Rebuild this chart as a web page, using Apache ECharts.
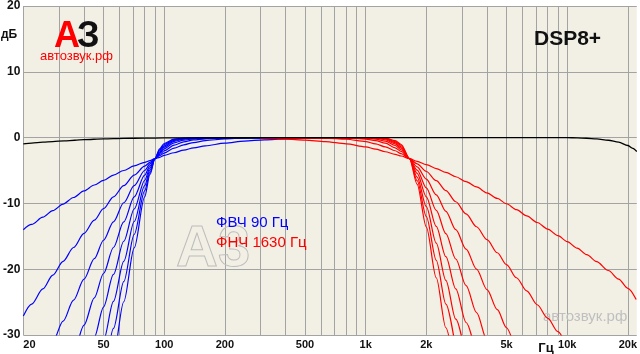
<!DOCTYPE html>
<html>
<head>
<meta charset="utf-8">
<script src="https://cdn.jsdelivr.net/npm/echarts@6/dist/echarts.min.js"></script>
<style>
  html, body { margin: 0; padding: 0; background: #fff; }
  #chart { width: 640px; height: 354px; }
</style>
</head>
<body>
<div id="chart"></div>
<script>
// частоты, Гц
var freqBase = [20, 22, 25, 28, 32, 36, 40, 50, 63, 80, 100, 200, 1000, 5000, 10000, 11200, 12500, 14000, 16000, 18000, 20000, 21000, 22150];
var freqBlue = [20, 22, 25, 28, 31.5, 35.5, 40, 45, 50, 56, 63, 71, 80, 85, 90, 95, 100, 112, 125, 140, 160, 200, 250, 315, 400, 500, 630, 800, 1000];
var freqRed = [300, 400, 500, 630, 800, 1000, 1120, 1250, 1400, 1500, 1650, 1800, 2000, 2240, 2500, 2800, 3150, 3550, 4000, 4500, 5000, 5600, 6300, 7100, 8000, 9000, 10000, 11200, 12500, 14000, 16000, 18000, 20000, 22000];

// АЧХ без фильтров, дБ
var base = [-0.95, -0.85, -0.7, -0.6, -0.5, -0.4, -0.3, -0.2, -0.12, -0.08, -0.05, -0.02, 0, 0, 0, -0.05, -0.1, -0.2, -0.4, -0.7, -1.2, -1.6, -2.1];

// ФВЧ 90 Гц, крутизна 6...48 дБ/окт
var hpf6 = [-14.0, -13.2, -12.1, -11.1, -10.1, -9.1, -8.1, -7.2, -6.5, -5.7, -5.0, -4.3, -3.75, -3.5, -3.2, -3.0, -2.7, -2.3, -1.9, -1.55, -1.25, -0.85, -0.53, -0.34, -0.21, -0.14, -0.09, -0.05, -0.03];
var hpf12 = [-27.1, -25.3, -23.0, -20.9, -18.8, -16.7, -14.55, -12.55, -10.8, -9.0, -7.3, -5.7, -4.35, -3.75, -3.2, -2.75, -2.35, -1.6, -1.1, -0.75, -0.45, -0.2, -0.07, -0.03, 0, 0, 0, 0, 0];
var hpf18 = [-40.2, -37.6, -34.1, -31.0, -27.9, -24.7, -21.5, -18.4, -15.6, -12.8, -9.9, -7.3, -5.0, -4.0, -3.2, -2.55, -2.0, -1.15, -0.65, -0.36, -0.19, -0.07, -0.02, 0, 0, 0, 0, 0, 0];
var hpf24 = [null, null, -45.2, -41.2, -37.0, -32.7, -28.5, -24.35, -20.65, -16.7, -12.8, -9.0, -5.7, -4.3, -3.2, -2.35, -1.7, -0.8, -0.38, -0.19, -0.09, -0.03, 0, 0, 0, 0, 0, 0, 0];
var hpf30 = [null, null, null, null, -46.1, -40.8, -35.5, -30.35, -25.75, -20.8, -15.75, -10.85, -6.5, -4.6, -3.2, -2.2, -1.45, -0.56, -0.24, -0.11, -0.05, -0.03, 0, 0, 0, 0, 0, 0, 0];
var hpf36 = [null, null, null, null, null, -48.9, -42.6, -36.35, -30.85, -24.9, -18.8, -12.75, -7.3, -4.95, -3.2, -2.0, -1.25, -0.41, -0.16, -0.06, -0.05, -0.03, 0, 0, 0, 0, 0, 0, 0];
var hpf42 = [null, null, null, null, null, null, -49.6, -42.35, -35.9, -29.0, -21.9, -14.7, -8.1, -5.3, -3.2, -1.85, -1.05, -0.3, -0.12, -0.06, -0.05, -0.03, 0, 0, 0, 0, 0, 0, 0];
var hpf48 = [null, null, null, null, null, null, null, -48.45, -41.05, -33.1, -24.95, -16.75, -9.0, -5.6, -3.2, -1.7, -0.9, -0.23, -0.08, -0.06, -0.05, -0.03, 0, 0, 0, 0, 0, 0, 0];

// ФНЧ 1630 Гц, крутизна 6...48 дБ/окт
var lpf6 = [-0.14, -0.25, -0.38, -0.6, -0.95, -1.4, -1.75, -2.15, -2.55, -2.8, -3.2, -3.6, -4.1, -4.7, -5.3, -5.95, -6.7, -7.5, -8.4, -9.25, -10.05, -10.95, -11.9, -12.9, -13.9, -14.9, -15.8, -16.8, -17.8, -18.85, -20.2, -21.5, -22.9, -24.6];
var lpf12 = [0, -0.02, -0.04, -0.09, -0.25, -0.6, -0.95, -1.4, -2.0, -2.45, -3.2, -4.0, -5.15, -6.55, -8.05, -9.75, -11.6, -13.55, -15.5, -17.5, -19.3, -21.3, -23.3, -25.4, -27.45, -29.5, -31.3, -33.4];
var lpf18 = [0, 0, 0, -0.01, -0.06, -0.22, -0.45, -0.85, -1.55, -2.1, -3.2, -4.45, -6.3, -8.7, -11.2, -14.0, -16.95, -20.0, -23.1, -26.15, -28.9, -31.85, -34.9];
var lpf24 = [0, 0, 0, 0, -0.01, -0.08, -0.22, -0.55, -1.2, -1.85, -3.2, -4.95, -7.65, -11.05, -14.6, -18.45, -22.5, -26.6, -30.8, -34.9];
var lpf30 = [0, 0, 0, 0, 0, -0.03, -0.1, -0.33, -0.95, -1.6, -3.2, -5.45, -9.0, -13.5, -18.1, -23.0, -28.1, -33.3];
var lpf36 = [0, 0, 0, 0, 0, -0.01, -0.05, -0.2, -0.75, -1.4, -3.2, -6.0, -10.5, -16.05, -21.7, -27.6, -33.7];
var lpf42 = [0, 0, 0, 0, 0, 0, -0.02, -0.12, -0.6, -1.2, -3.2, -6.55, -12.0, -18.65, -25.3, -32.2];
var lpf48 = [0, 0, 0, 0, 0, 0, -0.01, -0.07, -0.45, -1.05, -3.2, -7.1, -13.6, -21.3, -28.9, -36.8];

// сетка и подписи осей
var gridFreqs = [20, 30, 40, 50, 60, 70, 80, 90, 100, 200, 300, 400, 500, 600, 700, 800, 900, 1000,
  2000, 3000, 4000, 5000, 6000, 7000, 8000, 9000, 10000, 20000];
var labelFreqs = [20, 50, 100, 200, 500, 1000, 2000, 5000, 10000, 20000];

var FONT = '"Liberation Sans", Arial, sans-serif';

function curve(freqs, vals, color) {
  return {
    type: 'line',
    data: vals.map(function (v, i) { return [freqs[i], v]; }),
    symbol: 'none',
    smooth: 0.3,
    smoothMonotone: 'x',
    clip: true,
    silent: true,
    lineStyle: { color: color, width: 1.2 }
  };
}

var series = [];
[hpf6, hpf12, hpf18, hpf24, hpf30, hpf36, hpf42, hpf48].forEach(function (c) {
  series.push(curve(freqBlue, c, '#0000ff'));
});
[lpf6, lpf12, lpf18, lpf24, lpf30, lpf36, lpf42, lpf48].forEach(function (c) {
  series.push(curve(freqRed, c, '#ff0000'));
});
var baseLine = curve(freqBase, base, '#000000');
baseLine.lineStyle.width = 1.3;
series.push(baseLine);

var myChart = echarts.init(document.getElementById('chart'));
var option = {
  animation: false,
  backgroundColor: '#ffffff',
  grid: {
    left: 22, right: 0, top: 3, bottom: 19,
    show: true,
    backgroundColor: '#f2f0e5',
    borderWidth: 0
  },
  xAxis: {
    type: 'log',
    logBase: 10,
    min: 20,
    max: 22150,
    axisLine: { show: false },
    axisTick: { show: false, customValues: gridFreqs },
    splitLine: { show: true, lineStyle: { color: '#a3a3a3', width: 1 } },
    minorSplitLine: { show: false },
    axisLabel: {
      customValues: labelFreqs,
      alignMinLabel: 'left',
      margin: 4,
      color: '#111',
      fontFamily: FONT,
      fontSize: 11,
      fontWeight: 'bold',
      formatter: function (v) { return v >= 1000 ? (v / 1000) + 'k' : String(v); }
    }
  },
  yAxis: {
    type: 'value',
    min: -30,
    max: 20,
    interval: 10,
    axisLine: { show: false },
    axisTick: { show: false },
    splitLine: { show: true, lineStyle: { color: '#a3a3a3', width: 1 } },
    axisLabel: {
      margin: 3,
      color: '#111',
      fontFamily: FONT,
      fontSize: 12,
      fontWeight: 'bold'
    }
  },
  graphic: [
    // водяные знаки
    { type: 'text', x: 176, y: 250, z: 1, silent: true,
      style: { text: 'А3', font: 'bold 58px ' + FONT, fill: 'none', stroke: '#bdbdbd', lineWidth: 1,
        textAlign: 'left', textVerticalAlign: 'middle', align: 'left', verticalAlign: 'middle' } },
    { type: 'text', x: 543, y: 317, z: 1, silent: true,
      style: { text: 'автозвук.рф', font: '15px ' + FONT, fill: '#bfbfbf',
        textAlign: 'left', textVerticalAlign: 'middle', align: 'left', verticalAlign: 'middle' } },
    // логотип
    { type: 'text', x: 54, y: 37, z: 10,
      style: { text: 'А', font: 'bold 36px ' + FONT, fill: '#ff0000',
        shadowColor: 'rgba(0,0,0,0.6)', shadowBlur: 2, shadowOffsetX: 2, shadowOffsetY: 2,
        textAlign: 'left', textVerticalAlign: 'middle', align: 'left', verticalAlign: 'middle' } },
    { type: 'text', x: 77, y: 37, z: 10,
      style: { text: 'З', font: 'bold 36px ' + FONT, fill: '#111111',
        shadowColor: 'rgba(0,0,0,0.45)', shadowBlur: 2, shadowOffsetX: 2, shadowOffsetY: 2,
        textAlign: 'left', textVerticalAlign: 'middle', align: 'left', verticalAlign: 'middle' } },
    { type: 'text', x: 40, y: 56, z: 10,
      style: { text: 'автозвук.рф', font: '13px ' + FONT, fill: '#ff0000',
        textAlign: 'left', textVerticalAlign: 'middle', align: 'left', verticalAlign: 'middle' } },
    { type: 'text', x: 534, y: 39, z: 10,
      style: { text: 'DSP8+', font: 'bold 21px ' + FONT, fill: '#111111',
        textAlign: 'left', textVerticalAlign: 'middle', align: 'left', verticalAlign: 'middle' } },
    // подписи фильтров
    { type: 'text', x: 216, y: 223, z: 10,
      style: { text: 'ФВЧ 90 Гц', font: '15px ' + FONT, fill: '#0000ff',
        textAlign: 'left', textVerticalAlign: 'middle', align: 'left', verticalAlign: 'middle' } },
    { type: 'text', x: 216, y: 243, z: 10,
      style: { text: 'ФНЧ 1630 Гц', font: '15px ' + FONT, fill: '#ff0000',
        textAlign: 'left', textVerticalAlign: 'middle', align: 'left', verticalAlign: 'middle' } },
    // единицы осей
    { type: 'text', x: 1, y: 35, z: 10,
      style: { text: 'дБ', font: 'bold 12px ' + FONT, fill: '#111111',
        textAlign: 'left', textVerticalAlign: 'middle', align: 'left', verticalAlign: 'middle' } },
    { type: 'text', x: 546, y: 348, z: 10,
      style: { text: 'Гц', font: 'bold 13px ' + FONT, fill: '#111111',
        textAlign: 'center', textVerticalAlign: 'middle', align: 'center', verticalAlign: 'middle' } }
  ],
  series: series
};
myChart.setOption(option);
</script>
</body>
</html>
